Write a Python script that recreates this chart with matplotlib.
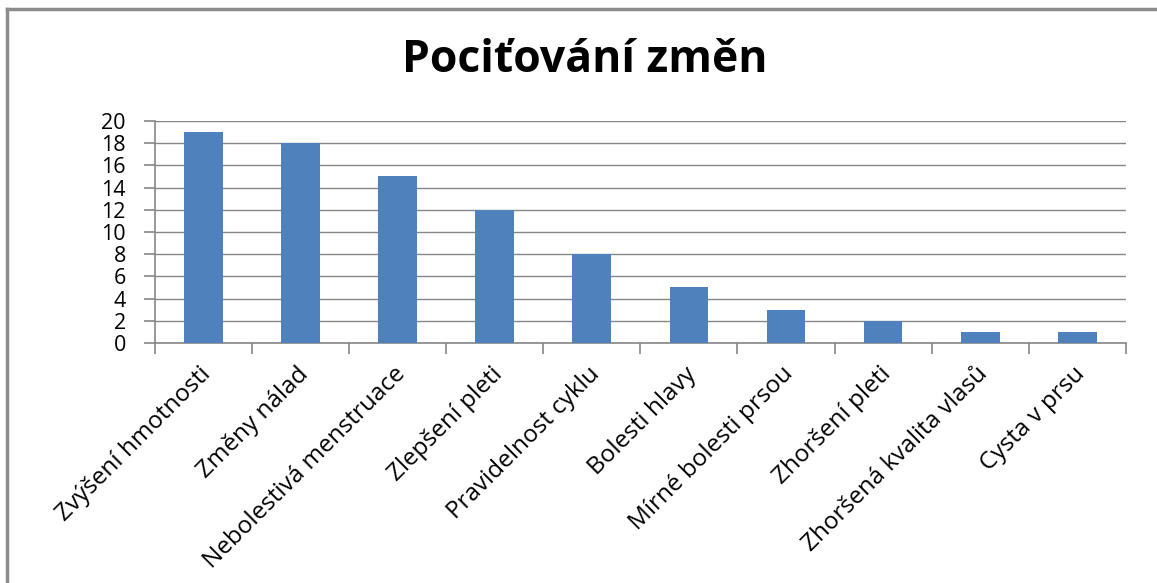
import matplotlib
matplotlib.use('Agg')
import matplotlib.pyplot as plt
import matplotlib.transforms as mtransforms
from matplotlib.lines import Line2D

categories = ['Zvýšení hmotnosti', 'Změny nálad', 'Nebolestivá menstruace',
              'Zlepšení pleti', 'Pravidelnost cyklu', 'Bolesti hlavy',
              'Mírné bolesti prsou', 'Zhoršení pleti', 'Zhoršená kvalita vlasů',
              'Cysta v prsu']
counts = [19, 18, 15, 12, 8, 5, 3, 2, 1, 1]
y_ticks = list(range(0, 21, 2))

plt.rcParams['font.family'] = ['Open Sans', 'DejaVu Sans']

fig = plt.figure(figsize=(11.57, 5.83), dpi=100)
ax = fig.add_axes([0.134, 0.4117, 0.839, 0.3808])

x = list(range(len(categories)))
ax.bar(x, counts, width=0.4, color='#4F81BD', zorder=3)

ax.set_xlim(-0.5, len(categories) - 0.5)
ax.set_ylim(0, 20)
ax.set_yticks(y_ticks)
ax.set_yticklabels([str(v) for v in y_ticks], fontsize=15.5)
ax.yaxis.grid(True, color='#868686', linewidth=1.0, zorder=0)

# category boundary ticks like Excel
ax.set_xticks([i - 0.5 for i in range(len(categories) + 1)])
ax.set_xticklabels([])
ax.set_xticks(x, minor=True)
ax.set_xticklabels(categories, minor=True, rotation=45, ha='right',
                   va='center', rotation_mode='anchor', fontsize=17.5)
ax.tick_params(axis='x', which='minor', length=0, pad=20)
ax.tick_params(axis='x', which='major', length=8, color='#868686', width=1.2)
ax.tick_params(axis='y', length=8, color='#868686', width=1.2, pad=13)

shift = mtransforms.ScaledTranslation(4 / 100, 0, fig.dpi_scale_trans)
for lbl in ax.get_xticklabels(minor=True):
    lbl.set_transform(lbl.get_transform() + shift)

for side in ['top', 'right']:
    ax.spines[side].set_visible(False)
for side in ['left', 'bottom']:
    ax.spines[side].set_color('#868686')
    ax.spines[side].set_linewidth(1.2)

fig.text(0.505, 1 - 72 / 583, 'Pociťování změn', fontsize=32, fontweight='bold',
         ha='center', va='baseline')

# outer chart frame (only top and left edges visible in crop)
fig.add_artist(Line2D([7 / 1157, 7 / 1157], [0, 1 - 9 / 583], color='#8c8c8c',
                      linewidth=2.5, transform=fig.transFigure))
fig.add_artist(Line2D([7 / 1157, 1], [1 - 9 / 583, 1 - 9 / 583], color='#8c8c8c',
                      linewidth=2.5, transform=fig.transFigure))

fig.savefig('out.png', dpi=100)
